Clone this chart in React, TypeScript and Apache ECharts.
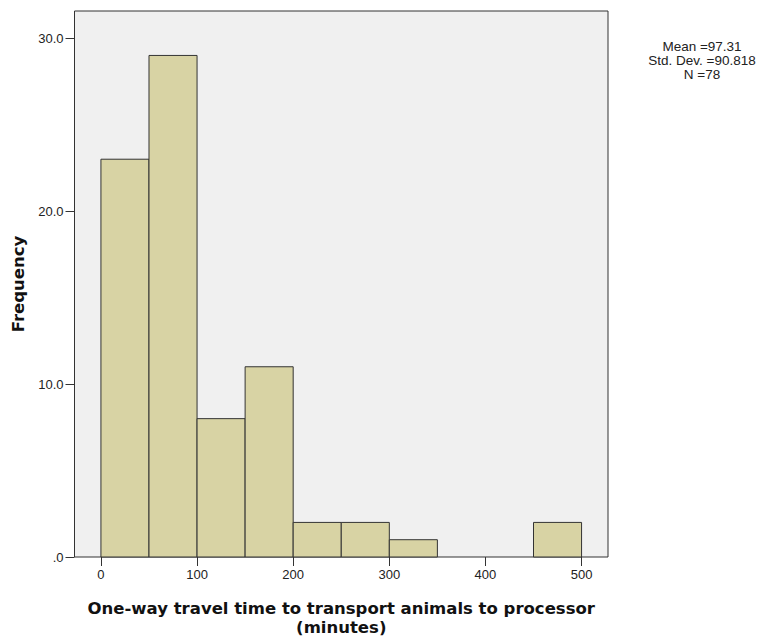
import React, { useEffect, useRef } from "react";
import * as echarts from "echarts";

const binStarts = [0, 50, 100, 150, 200, 250, 300, 350, 400, 450];
const binWidth = 50;
const frequencies = [23, 29, 8, 11, 2, 2, 1, 0, 0, 2];
const xTicks = [0, 100, 200, 300, 400, 500];
const yTicks = [0, 10, 20, 30];
const statsLines = ["Mean =97.31", "Std. Dev. =90.818", "N =78"];

const FONT = "'Liberation Sans', Arial, sans-serif";
const TITLE_FONT = "'DejaVu Sans', Verdana, sans-serif";

export default function App() {
  const ref = useRef<HTMLDivElement>(null);
  useEffect(() => {
    document.body.style.margin = "0";
    if (!ref.current) return;
    const chart = echarts.init(ref.current, undefined, { renderer: "svg" });
    const data = binStarts
      .map((s, i) => [s, s + binWidth, frequencies[i]])
      .filter((d) => d[2] > 0);
    chart.setOption({
      animation: false,
      grid: {
        left: 74.5,
        top: 11,
        right: 154,
        bottom: 81,
        show: true,
        backgroundColor: "#f0f0f0",
        borderColor: "#333",
        borderWidth: 1,
      },
      xAxis: {
        type: "value",
        min: -27.5,
        max: 527.5,
        splitLine: { show: false },
        axisLine: { show: false, onZero: false },
        axisTick: {
          show: true,
          length: 9,
          customValues: xTicks,
          lineStyle: { color: "#333" },
        },
        axisLabel: {
          customValues: xTicks,
          color: "#222",
          fontFamily: FONT,
          fontSize: 13,
          margin: 11,
        },
        name: "One-way travel time to transport animals to processor\n(minutes)",
        nameLocation: "middle",
        nameGap: 42,
        nameTextStyle: {
          fontFamily: TITLE_FONT,
          fontWeight: "bold",
          fontSize: 16.5,
          color: "#111",
          lineHeight: 19,
        },
      },
      yAxis: {
        type: "value",
        min: 0,
        max: 31.57,
        splitLine: { show: false },
        axisLine: { show: false, onZero: false },
        axisTick: {
          show: true,
          length: 9,
          customValues: yTicks,
          lineStyle: { color: "#333" },
        },
        axisLabel: {
          customValues: yTicks,
          color: "#222",
          fontFamily: FONT,
          fontSize: 13,
          margin: 11,
          formatter: (v: number) => (v === 0 ? ".0" : v.toFixed(1)),
        },
        name: "Frequency",
        nameLocation: "middle",
        nameGap: 48,
        nameTextStyle: {
          fontFamily: TITLE_FONT,
          fontWeight: "bold",
          fontSize: 16.5,
          color: "#111",
        },
      },
      series: [
        {
          type: "custom",
          data,
          renderItem: (params: any, api: any) => {
            const p0 = api.coord([api.value(0), api.value(2)]);
            const p1 = api.coord([api.value(1), 0]);
            return {
              type: "rect",
              shape: {
                x: p0[0],
                y: p0[1],
                width: p1[0] - p0[0],
                height: p1[1] - p0[1],
              },
              style: {
                fill: "#d8d3a4",
                stroke: "#333",
                lineWidth: 1,
              },
            };
          },
        },
      ],
      graphic: [
        {
          type: "text",
          x: 702,
          y: 39,
          style: {
            text: statsLines.join("\n"),
            fontFamily: FONT,
            fontSize: 13.5,
            lineHeight: 14,
            fill: "#222",
            align: "center",
            verticalAlign: "top",
          },
        },
      ],
    });
    return () => chart.dispose();
  }, []);
  return <div ref={ref} style={{ width: 762, height: 642 }} />;
}
